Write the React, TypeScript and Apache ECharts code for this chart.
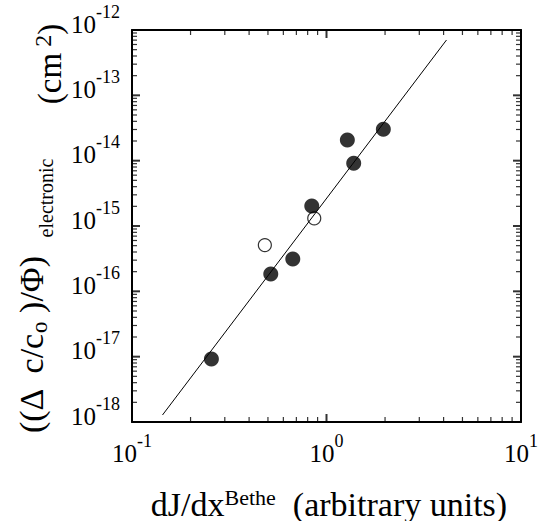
import React, { useEffect, useRef } from "react";
import * as echarts from "echarts";

// ---- data ----
const filledX = [0.256, 0.517, 0.671, 0.84, 1.28, 1.38, 1.96];
const filledY = [9.2e-18, 1.84e-16, 3.13e-16, 2.02e-15, 2.07e-14, 9.1e-15, 3.02e-14];
const openX = [0.482, 0.865];
const openY = [5.1e-16, 1.31e-15];
const fitX = [0.1435, 4.14];
const fitY = [1.28e-18, 7.03e-13];

// ---- axes ----
const xMin = 0.1;
const xMax = 10;
const yMin = 1e-18;
const yMax = 1e-12;
const xMajor = [0.1, 1, 10];
const yMajor = [1e-18, 1e-17, 1e-16, 1e-15, 1e-14, 1e-13, 1e-12];
const minorMultipliers = [2, 3, 4, 5, 6, 7, 8, 9];

const FONT = "'Liberation Serif', 'Times New Roman', serif";

function expLabel(v: number) {
  const e = Math.round(Math.log10(v));
  return `{b|10}{s|${e}}`;
}

export default function App() {
  const ref = useRef<HTMLDivElement>(null);
  const titleRef = useRef<HTMLDivElement>(null);

  useEffect(() => {
    if (!ref.current || !titleRef.current) return;
    const chart = echarts.init(ref.current, null, { renderer: "svg" });
    const titles = echarts.init(titleRef.current, null, { renderer: "svg" });

    const xMinor: number[] = [];
    xMajor.slice(0, -1).forEach((d) => minorMultipliers.forEach((m) => xMinor.push(m * d)));
    const yMinor: number[] = [];
    yMajor.slice(0, -1).forEach((d) => minorMultipliers.forEach((m) => yMinor.push(m * d)));

    const tickSeries = (data: number[][], size: number[], offset: number[]) => ({
      type: "scatter",
      data,
      symbol: "rect",
      symbolSize: size,
      symbolOffset: offset,
      clip: false,
      silent: true,
      z: 5,
      itemStyle: { color: "#000" },
    });

    const richLabel = {
      b: {
        fontSize: 25,
        fontFamily: FONT,
        color: "#000",
        lineHeight: 34,
        verticalAlign: "bottom",
      },
      s: {
        fontSize: 18,
        fontFamily: FONT,
        color: "#000",
        verticalAlign: "top",
      },
    };

    const axisCommon = {
      type: "log",
      axisLine: { show: true, onZero: false, lineStyle: { color: "#000", width: 2 } },
      axisTick: { show: false },
      splitLine: { show: false },
    };

    const option: any = {
      animation: false,
      backgroundColor: "#fff",
      grid: {
        left: 132,
        right: 19,
        top: 30,
        bottom: 99,
        containLabel: false,
        outerBoundsMode: "none",
      },
      xAxis: [
        {
          ...axisCommon,
          min: xMin,
          max: xMax,
          position: "bottom",
          axisLabel: {
            formatter: expLabel,
            rich: richLabel,
            margin: 10,
            showMinLabel: true,
            showMaxLabel: true,
          },
        },
        {
          ...axisCommon,
          min: xMin,
          max: xMax,
          position: "top",
          axisLabel: { show: false },
        },
      ],
      yAxis: [
        {
          ...axisCommon,
          min: yMin,
          max: yMax,
          position: "left",
          axisLabel: {
            formatter: expLabel,
            rich: richLabel,
            margin: 12,
            padding: [0, 0, 21, 0],
            showMinLabel: true,
            showMaxLabel: true,
          },
        },
        {
          ...axisCommon,
          min: yMin,
          max: yMax,
          position: "right",
          axisLabel: { show: false },
        },
      ],
      series: [
        {
          type: "line",
          data: fitX.map((x, i) => [x, fitY[i]]),
          symbol: "none",
          lineStyle: { color: "#000", width: 1 },
          silent: true,
        },
        {
          type: "scatter",
          data: filledX.map((x, i) => [x, filledY[i]]),
          symbol: "circle",
          symbolSize: 15,
          itemStyle: { color: "#000" },
        },
        {
          type: "scatter",
          data: openX.map((x, i) => [x, openY[i]]),
          symbol: "circle",
          symbolSize: 13,
          itemStyle: { color: "transparent", borderColor: "#000", borderWidth: 1.2 },
        },
        // tick marks on all four sides (inside)
        tickSeries(yMajor.map((v) => [xMin, v]), [8, 2], [4, 0]),
        tickSeries(yMajor.map((v) => [xMax, v]), [8, 2], [-4, 0]),
        tickSeries(yMinor.map((v) => [xMin, v]), [5, 1.2], [2.5, 0]),
        tickSeries(yMinor.map((v) => [xMax, v]), [5, 1.2], [-2.5, 0]),
        tickSeries(xMajor.map((v) => [v, yMin]), [2, 8], [0, -4]),
        tickSeries(xMajor.map((v) => [v, yMax]), [2, 8], [0, 4]),
        tickSeries(xMinor.map((v) => [v, yMin]), [1.2, 5], [0, -2.5]),
        tickSeries(xMinor.map((v) => [v, yMax]), [1.2, 5], [0, 2.5]),
      ],
    };

    const titleOption: any = {
      animation: false,
      graphic: [
        {
          type: "text",
          x: 329,
          y: 504,
          style: {
            text: "dJ/dx{sup|Bethe}  (arbitrary units)",
            fontSize: 34,
            fontFamily: FONT,
            fill: "#000",
            textAlign: "center",
            textVerticalAlign: "middle",
            rich: {
              sup: { fontSize: 22, fontFamily: FONT, fill: "#000", verticalAlign: "top", padding: [0, 0, 14, 0] },
            },
          },
        },
        {
          type: "text",
          x: 31,
          y: 345,
          rotation: Math.PI / 2,
          style: {
            text: "((Δ  c/c{sub|o} )/Φ)",
            fontSize: 34,
            fontFamily: FONT,
            fill: "#000",
            textAlign: "center",
            textVerticalAlign: "middle",
            rich: {
              sub: { fontSize: 23, fontFamily: FONT, fill: "#000", padding: [16, 0, 0, 0] },
            },
          },
        },
        {
          type: "text",
          x: 46,
          y: 198,
          rotation: Math.PI / 2,
          style: {
            text: "electronic",
            fontSize: 20,
            fontFamily: FONT,
            fill: "#000",
            textAlign: "center",
            textVerticalAlign: "middle",
          },
        },
        {
          type: "text",
          x: 50,
          y: 64,
          rotation: Math.PI / 2,
          style: {
            text: "(cm{sup| 2})",
            fontSize: 33,
            fontFamily: FONT,
            fill: "#000",
            textAlign: "center",
            textVerticalAlign: "middle",
            rich: {
              sup: { fontSize: 24, fontFamily: FONT, fill: "#000", verticalAlign: "top", padding: [0, 0, 14, 0] },
            },
          },
        },
      ],
    };

    chart.setOption(option);
    titles.setOption(titleOption);
    return () => {
      chart.dispose();
      titles.dispose();
    };
  }, []);

  return (
    <div style={{ position: "absolute", left: 0, top: 0, width: 540, height: 521, background: "#fff" }}>
      <div ref={ref} style={{ position: "absolute", left: 0, top: 0, width: 540, height: 521 }} />
      <div
        ref={titleRef}
        style={{ position: "absolute", left: 0, top: 0, width: 540, height: 521, pointerEvents: "none" }}
      />
    </div>
  );
}
